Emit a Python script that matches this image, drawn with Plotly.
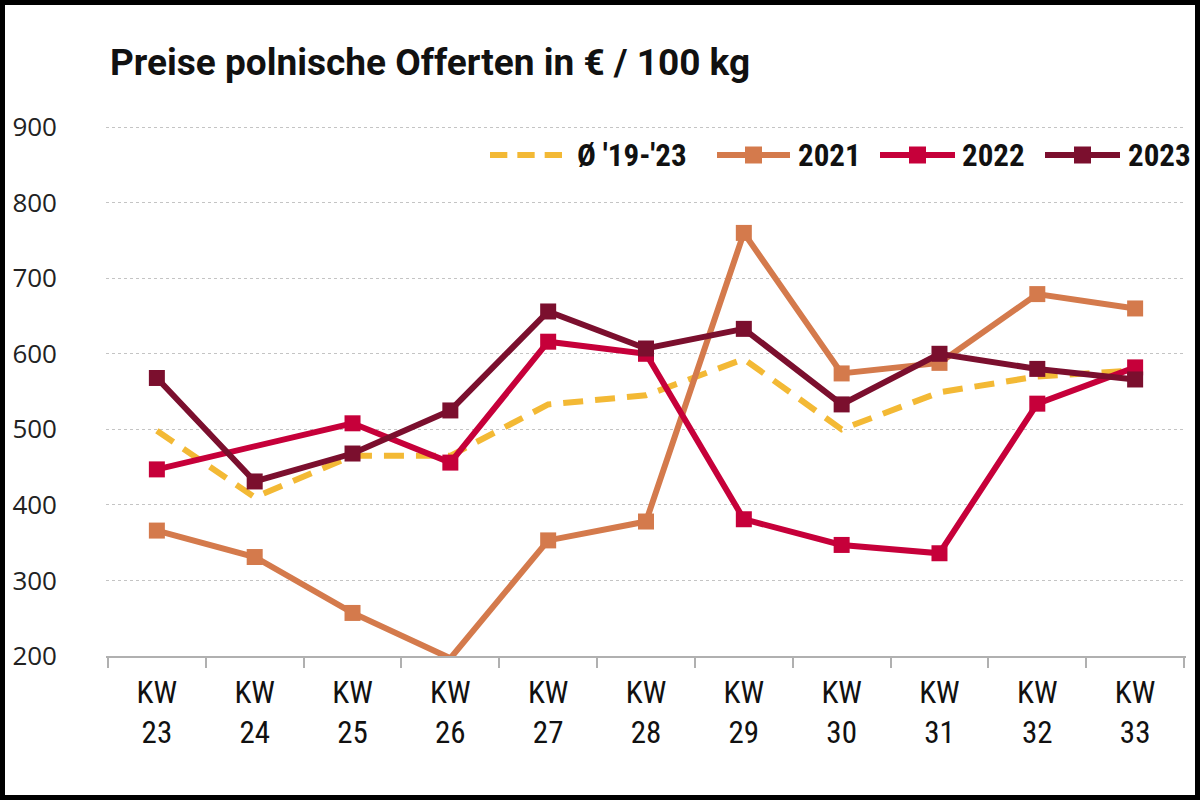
import plotly.graph_objects as go

categories = ["KW<br>23", "KW<br>24", "KW<br>25", "KW<br>26", "KW<br>27", "KW<br>28",
              "KW<br>29", "KW<br>30", "KW<br>31", "KW<br>32", "KW<br>33"]
avg_19_23 = [498, 410, 465, 465, 533, 545, 593, 500, 549, 570, 578]
y2021 = [366, 331, 257, 197, 353, 378, 760, 574, 588, 679, 660]
y2022 = [447, None, 508, 456, 616, 600, 381, 347, 336, 534, 582]
y2023 = [568, 431, 468, 525, 656, 607, 633, 533, 600, 580, 566]
y_ticks = [200, 300, 400, 500, 600, 700, 800, 900]
series_names = ["Ø '19-'23", "2021", "2022", "2023"]

C_AVG = "#F3B935"
C_21 = "#D47A4C"
C_22 = "#C6003A"
C_23 = "#7B0F2E"
Y_MIN, Y_MAX = 200, 900

L, R, T, B = 106, 14, 126, 144
W, H = 1200 - L - R, 800 - T - B


def px(xp):
    return (xp - L) / W


def py(yp):
    return (800 - B - yp) / H


COND = "Roboto Condensed, Liberation Sans Narrow, sans-serif"

fig = go.Figure()
fig.add_trace(go.Scatter(x=categories, y=avg_19_23, name=series_names[0], mode="lines",
                         line=dict(color=C_AVG, width=6, dash="20px,12px")))
for name, vals, col in [(series_names[1], y2021, C_21), (series_names[2], y2022, C_22),
                        (series_names[3], y2023, C_23)]:
    sizes = [16 if (v is not None and v >= Y_MIN) else 0 for v in vals]
    fig.add_trace(go.Scatter(x=categories, y=vals, name=name, mode="lines+markers",
                             connectgaps=True,
                             line=dict(color=col, width=6),
                             marker=dict(symbol="square", size=sizes, color=col, opacity=1,
                                         line=dict(width=0))))

# custom legend (long line samples as in the original)
LEG_Y = 155
legend_items = [
    (series_names[0], C_AVG, True, 490, 562, 575),
    (series_names[1], C_21, False, 717, 790, 796),
    (series_names[2], C_22, False, 880, 955, 960),
    (series_names[3], C_23, False, 1045, 1120, 1126),
]
for name, col, dashed, x0, x1, tx in legend_items:
    if dashed:
        seg = (x1 - x0 - 2 * 10) / 3
        for k in range(3):
            a = x0 + k * (seg + 10)
            fig.add_shape(type="line", xref="paper", yref="paper",
                          x0=px(a), x1=px(a + seg), y0=py(LEG_Y), y1=py(LEG_Y),
                          line=dict(color=col, width=6))
    else:
        fig.add_shape(type="line", xref="paper", yref="paper",
                      x0=px(x0), x1=px(x1), y0=py(LEG_Y), y1=py(LEG_Y),
                      line=dict(color=col, width=6))
        m = (x0 + x1) / 2
        fig.add_shape(type="rect", xref="paper", yref="paper",
                      x0=px(m - 8.5), x1=px(m + 8.5), y0=py(LEG_Y + 8.5), y1=py(LEG_Y - 8.5),
                      fillcolor=col, line=dict(width=0))
    fig.add_annotation(text="<b>%s</b>" % name, xref="paper", yref="paper",
                       x=px(tx), y=py(LEG_Y), xanchor="left", yanchor="middle",
                       showarrow=False, font=dict(family=COND, size=31, color="#111"))

# black frame around the whole picture
fx0, fx1 = -L / W, (1200 - L) / W
fy0, fy1 = -B / H, (800 - B) / H
bw = 5
for x0, x1, y0, y1 in [
    (fx0, fx0 + bw / W, fy0, fy1),
    (fx1 - bw / W, fx1, fy0, fy1),
    (fx0, fx1, fy0, fy0 + bw / H),
    (fx0, fx1, fy1 - bw / H, fy1),
]:
    fig.add_shape(type="rect", xref="paper", yref="paper", x0=x0, x1=x1, y0=y0, y1=y1,
                  fillcolor="black", line=dict(width=0), layer="above")

fig.update_layout(
    width=1200, height=800,
    margin=dict(l=L, r=R, t=T, b=B),
    paper_bgcolor="white", plot_bgcolor="white",
    title=dict(text="<b>Preise polnische Offerten in € / 100 kg</b>",
               x=4 / W, xref="paper", xanchor="left",
               y=1 - 62 / 800, yref="container", yanchor="middle",
               font=dict(family="Roboto, sans-serif", size=37, color="#111")),
    showlegend=False,
)
fig.update_xaxes(
    type="category", showgrid=False, showline=True, linecolor="#b0b0b0", linewidth=1.5,
    ticks="outside", tickson="boundaries", ticklen=10, tickcolor="#b0b0b0", tickwidth=1.5,
    tickfont=dict(family=COND, size=31, color="#111"),
    ticklabelstandoff=8,
    range=[-0.52, 10.52],
)
fig.update_yaxes(
    range=[Y_MIN, Y_MAX + 1.5], tickvals=y_ticks, showgrid=True, gridcolor="#c4c4c4",
    griddash="dot", gridwidth=1.2, zeroline=False, showline=False, ticks="",
    tickfont=dict(family="Open Sans, Noto Sans, sans-serif", size=26, color="#222"),
    ticklabelstandoff=48,
)

fig.write_html("out.html", config={"displayModeBar": False},
               post_script="document.body.style.margin='0';document.body.style.overflow='hidden';")
